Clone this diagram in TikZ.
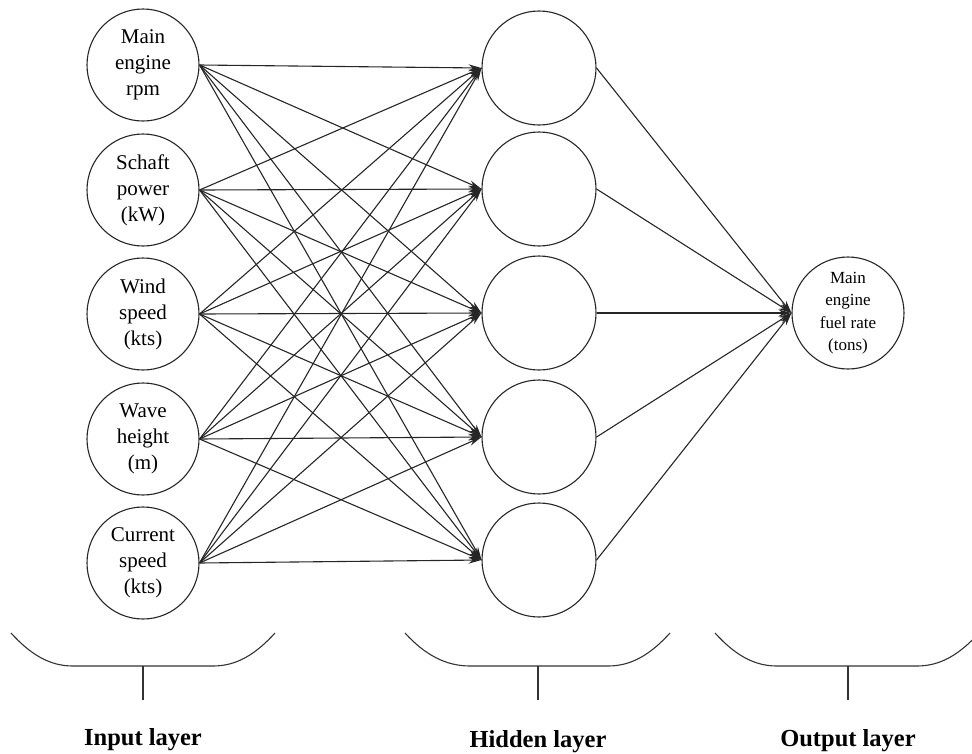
\documentclass[tikz,border=0pt]{standalone}
\usepackage{fontspec}
\setmainfont{Liberation Serif}
\usetikzlibrary{arrows.meta}
\begin{document}
\begin{tikzpicture}[x=1pt,y=-1pt,
  neuron/.style={circle,draw=black!85,line width=1.1pt,inner sep=0pt,align=center},
  innode/.style={neuron,minimum size=112pt,font=\fontsize{21}{26}\selectfont},
  hidnode/.style={neuron,minimum size=114pt},
  outnode/.style={neuron,minimum size=112pt,font=\fontsize{17}{22.5}\selectfont},
  conn/.style={draw=black!85,line width=1.1pt,-{Stealth[length=13pt,width=7pt]}},
  bracket/.style={draw=black!80,line width=1.1pt},
  layerlabel/.style={font=\fontsize{24.5}{28}\selectfont\bfseries,anchor=base}]
\useasboundingbox (0,0) rectangle (972,753);
\clip (0,0) rectangle (972,753);
% input layer
\node[innode] (i1) at (143,65) {Main\\engine\\rpm};
\node[innode] (i2) at (143,190) {Schaft\\power\\(kW)};
\node[innode] (i3) at (143,314) {Wind\\speed\\(kts)};
\node[innode] (i4) at (143,439) {Wave\\height\\(m)};
\node[innode] (i5) at (143,563) {Current\\speed\\(kts)};
% hidden layer
\foreach \k/\y in {1/68,2/189,3/313,4/437,5/560}
  \node[hidnode] (h\k) at (539,\y) {};
% output
\node[outnode] (o) at (848,313) {Main\\engine\\fuel rate\\(tons)};
% connections
\foreach \a in {1,...,5}
  \foreach \b in {1,...,5}
    \draw[conn] (i\a.east) -- (h\b.west);
\foreach \b in {1,...,5}
  \draw[conn] (h\b.east) -- (o.west);
% brackets
\coordinate (ib1) at (11,633);  \coordinate (ib2) at (73,666);
\coordinate (ib3) at (213,666); \coordinate (ib4) at (275,633);
\coordinate (ibm) at (143,666); \coordinate (ibt) at (143,700);
\draw[bracket] (ib1) .. controls (31,655) and (50,666) .. (ib2) -- (ib3)
  .. controls (236,666) and (255,655) .. (ib4);
\draw[bracket] (ibm) -- (ibt);
\coordinate (hb1) at (405,633);  \coordinate (hb2) at (470,666);
\coordinate (hb3) at (608,666); \coordinate (hb4) at (670,633);
\coordinate (hbm) at (538,666); \coordinate (hbt) at (538,700);
\draw[bracket] (hb1) .. controls (425,655) and (446,666) .. (hb2) -- (hb3)
  .. controls (631,666) and (650,655) .. (hb4);
\draw[bracket] (hbm) -- (hbt);
\coordinate (ob1) at (715,633);  \coordinate (ob2) at (777,666);
\coordinate (ob3) at (917,666); \coordinate (ob4) at (979,633);
\coordinate (obm) at (848,666); \coordinate (obt) at (848,700);
\draw[bracket] (ob1) .. controls (735,655) and (754,666) .. (ob2) -- (ob3)
  .. controls (940,666) and (959,655) .. (ob4);
\draw[bracket] (obm) -- (obt);
% labels
\node[layerlabel] (li) at (143,745) {Input layer};
\node[layerlabel] (lh) at (538,747) {Hidden layer};
\node[layerlabel] (lo) at (848,746) {Output layer};
\end{tikzpicture}
\end{document}
